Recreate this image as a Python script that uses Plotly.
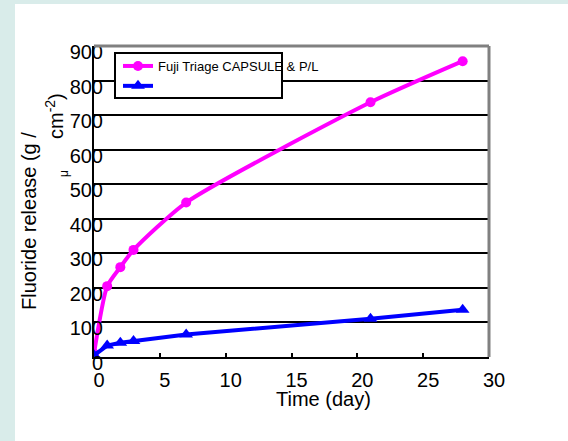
import plotly.graph_objects as go

days = [0, 1, 2, 3, 7, 21, 28]
fuji_capsule = [10, 205, 260, 310, 447, 737, 856]
second_series = [5, 33, 41, 46, 65, 111, 137]
x_ticks = [0, 5, 10, 15, 20, 25, 30]
y_ticks = [0, 100, 200, 300, 400, 500, 600, 700, 800, 900]

FONT = "Liberation Sans, Arial, sans-serif"

fig = go.Figure()
fig.add_trace(go.Scatter(
    x=days, y=fuji_capsule, name="Fuji Triage CAPSULE & P/L",
    mode="lines+markers", line=dict(color="#ff00ff", width=4, shape="spline", smoothing=0.6),
    marker=dict(symbol="circle", size=10, color="#ff00ff"),
))
fig.add_trace(go.Scatter(
    x=days, y=second_series, name=" ",
    mode="lines+markers", line=dict(color="#0000ff", width=4),
    marker=dict(symbol="triangle-up", size=12, color="#0000ff"),
))

L, R, T, B = 94, 79, 46, 84
W, H = 568, 441
pw, ph = W - L - R, H - T - B

def px(x):
    return (x - L) / pw

def py(y):
    return (H - B - y) / ph

fig.update_layout(
    width=W, height=H,
    margin=dict(l=L, r=R, t=T, b=B, pad=0),
    paper_bgcolor="white", plot_bgcolor="white",
    font=dict(family=FONT, color="black", size=20),
    showlegend=True,
    legend=dict(x=px(118), y=py(51), xanchor="left", yanchor="top",
                bgcolor="rgba(0,0,0,0)", borderwidth=0,
                font=dict(size=13, family=FONT, color="black"),
                itemwidth=30, tracegroupgap=0),
    xaxis=dict(range=[0, 30], tickvals=x_ticks, ticktext=[str(v) for v in x_ticks],
               showgrid=False, zeroline=False, showline=True, linecolor="black", linewidth=2,
               ticks="inside", ticklen=4, tickwidth=1.5, tickcolor="black",
               tickfont=dict(size=20, family=FONT, color="black"),
               ticklabelshift=5, ticklabelstandoff=4),
    yaxis=dict(range=[0, 900], tickvals=y_ticks, ticktext=[str(v) for v in y_ticks],
               showgrid=True, gridcolor="black", gridwidth=2,
               zeroline=False, showline=True, linecolor="black", linewidth=2,
               ticks="", tickfont=dict(size=20, family=FONT, color="black"),
               ticklabelstandoff=-15, ticklabelshift=6),
    shapes=[
        dict(type="rect", xref="paper", yref="paper", x0=-0.4, x1=px(15), y0=-0.5, y1=1.5,
             fillcolor="#d9ecea", line=dict(width=0), layer="below"),
        dict(type="rect", xref="paper", yref="paper", x0=-0.4, x1=1.5, y0=py(4), y1=1.5,
             fillcolor="#d9ecea", line=dict(width=0), layer="below"),
        dict(type="line", xref="paper", yref="paper", x0=0, x1=1, y0=1, y1=1,
             line=dict(color="#808080", width=3), layer="above"),
        dict(type="line", xref="paper", yref="paper", x0=1, x1=1, y0=0, y1=1,
             line=dict(color="#808080", width=3), layer="above"),
        dict(type="rect", xref="paper", yref="paper", x0=px(115), x1=px(282), y0=py(98), y1=py(53),
             fillcolor="white", line=dict(color="black", width=2), layer="above"),
    ],
    annotations=[
        dict(text="Fluoride release (g /", xref="paper", yref="paper", x=px(29), y=py(221),
             textangle=-90, showarrow=False, xanchor="center", yanchor="middle",
             font=dict(size=20, family=FONT, color="black")),
        dict(text="cm<sup>-2</sup>)", xref="paper", yref="paper", x=px(55), y=py(116),
             textangle=-90, showarrow=False, xanchor="center", yanchor="middle",
             font=dict(size=20, family=FONT, color="black")),
        dict(text="μ", xref="paper", yref="paper", x=px(64), y=py(174),
             textangle=-90, showarrow=False, xanchor="center", yanchor="middle",
             font=dict(size=12, family=FONT, color="black")),
        dict(text="Time (day)", xref="paper", yref="paper", x=px(323), y=py(399),
             showarrow=False, xanchor="center", yanchor="middle",
             font=dict(size=20, family=FONT, color="black")),
    ],
)

fig.write_html("out.html")
